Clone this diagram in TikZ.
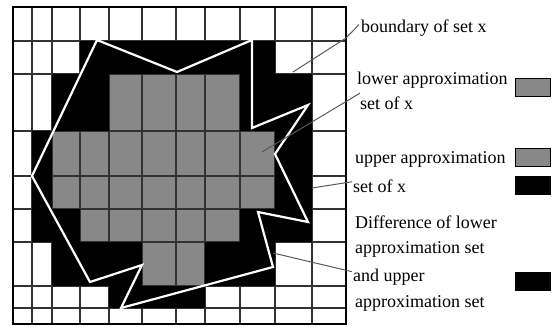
\documentclass[tikz,border=0pt]{standalone}
\usepackage{fontspec}
\setmainfont{Liberation Serif}
\definecolor{cellgray}{RGB}{136,136,136}
\definecolor{gridc}{RGB}{50,50,50}
\definecolor{leadc}{RGB}{90,90,90}
\begin{document}
\begin{tikzpicture}[x=1pt,y=-1pt,
  blk/.style={fill=black},
  gry/.style={fill=cellgray},
  gridline/.style={draw=gridc,line width=1.3pt},
  frame/.style={draw=black,line width=2.2pt},
  bound/.style={draw=white,line width=2.2pt,line join=miter},
  leader/.style={draw=leadc,line width=1pt},
  lbl/.style={anchor=base west,inner sep=0pt,font=\fontsize{18}{20}\selectfont},
  swatch/.style={draw=black,line width=1pt,minimum width=35pt,minimum height=18pt,inner sep=0pt}]
\useasboundingbox (0,0) rectangle (552,326);
% gray cells
\fill[gry] (109,74) rectangle (240,131);
\fill[gry] (52,131) rectangle (275,209);
\fill[gry] (80,209) rectangle (240,242);
\fill[gry] (142,242) rectangle (205,286);
% grid
\foreach \x in {32,52,80,109,142,176,205,240,275,312}
  \draw[gridline] (\x,7) -- (\x,324);
\foreach \y in {41,74,131,176,209,242,286,308}
  \draw[gridline] (13,\y) -- (346,\y);
% black cells (cover the grid lines)
\fill[blk] (80,41) rectangle (275,74);
\fill[blk] (52,74) rectangle (109,131);
\fill[blk] (240,74) rectangle (312,131);
\fill[blk] (32,131) rectangle (52,209);
\fill[blk] (275,131) rectangle (312,209);
\fill[blk] (32,209) rectangle (80,242);
\fill[blk] (240,209) rectangle (312,242);
\fill[blk] (52,242) rectangle (142,286);
\fill[blk] (205,242) rectangle (275,286);
\fill[blk] (109,286) rectangle (205,308);
\draw[frame] (13,7) rectangle (346,324);
% boundary polygon
\draw[bound] (97,40) -- (177,72) -- (252,40) -- (252,128) -- (308,105) -- (275,154)
  -- (308,222) -- (258,212) -- (273,267) -- (121,308) -- (142,265) -- (90,282)
  -- (32,176) -- cycle;
% labels
\node[lbl] (tb) at (361,33) {boundary of set x};
\node[lbl] (tl1) at (357,85) {lower approximation};
\node[lbl] (tl2) at (360,110) {set of x};
\node[lbl] (tu1) at (355,164) {upper approximation};
\node[lbl] (tu2) at (353,193) {set of x};
\node[lbl] (td1) at (355,229) {Difference of lower};
\node[lbl] (td2) at (355,254) {approximation set};
\node[lbl] (td3) at (353,281) {and upper};
\node[lbl] (td4) at (355,307) {approximation set};
% swatches
\node[swatch,fill=cellgray] (s1) at (532.5,88) {};
\node[swatch,fill=cellgray] (s2) at (532.5,157.5) {};
\node[swatch,fill=black] (s3) at (532.5,186) {};
\node[swatch,fill=black] (s4) at (532.5,281) {};
% leader targets
\coordinate (pb) at (293,72);
\coordinate (pl) at (262,152);
\coordinate (pu) at (312,188);
\coordinate (pd) at (273,253);
\draw[leader] (tb.west) ++(-2,-4) -- (346,38) -- (pb);
\draw[leader] (tl2.north west) ++(0,-4) -- (pl);
\draw[leader] (tu2.west) ++(-1,-5) -- (pu);
\draw[leader] (td3.west) ++(-1,-5) -- (pd);
\end{tikzpicture}
\end{document}
